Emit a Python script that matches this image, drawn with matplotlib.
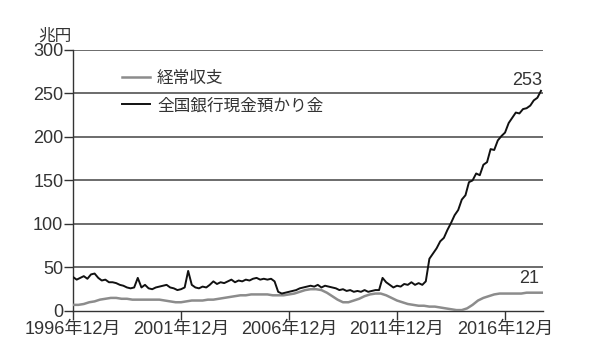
import matplotlib
matplotlib.use("Agg")
import matplotlib.pyplot as plt
import numpy as np
import pandas as pd

plt.rcParams['font.family'] = ['Liberation Sans', 'Noto Sans CJK JP']

# 全国銀行現金預かり金 (bi-monthly, 兆円)
cash_start = "1996-12"
cash_vals = [39,
             36, 38, 40, 37, 42, 43,
             38, 35, 36, 33, 33, 32,
             30, 29, 27, 26, 27, 38,
             27, 30, 26, 25, 27, 28,
             29, 30, 27, 26, 24, 25,
             27, 46, 30, 27, 26, 28,
             27, 30, 34, 31, 33, 32,
             34, 36, 33, 35, 34, 36,
             35, 37, 38, 36, 37, 36,
             37, 34, 22, 20, 21, 22,
             23, 24, 26, 27, 28, 29,
             28, 30, 27, 29, 28, 27,
             26, 24, 25, 23, 24, 22,
             23, 22, 24, 22, 23, 24,
             24, 38, 33, 30, 27, 29,
             28, 31, 30, 33, 30, 32,
             30, 34, 60, 66, 72, 80,
             84, 93, 101, 110, 116, 128,
             133, 148, 150, 158, 156, 168,
             171, 186, 185, 196, 201, 205,
             216, 222, 228, 227, 232, 233,
             236, 242, 245, 253]

# 経常収支 (quarterly, 兆円)
ca_start = "1996-12"
ca_vals = [7,
           7, 8, 10, 11,
           13, 14, 15, 15,
           14, 14, 13, 13,
           13, 13, 13, 13,
           12, 11, 10, 10,
           11, 12, 12, 12,
           13, 13, 14, 15,
           16, 17, 18, 18,
           19, 19, 19, 19,
           18, 18, 18, 19,
           20, 22, 24, 25,
           25, 24, 21, 17,
           13, 10, 10, 12,
           14, 17, 19, 20,
           20, 18, 15, 12,
           10, 8, 7, 6,
           6, 5, 5, 4,
           3, 2, 1, 1,
           3, 7, 12, 15,
           17, 19, 20, 20,
           20, 20, 20, 21,
           21, 21, 21]

tick_dates = ["1996-12", "2001-12", "2006-12", "2011-12", "2016-12"]
tick_labels = ["1996年12月", "2001年12月", "2006年12月", "2011年12月", "2016年12月"]
y_ticks = [0, 50, 100, 150, 200, 250, 300]

cash_x = pd.date_range(cash_start, periods=len(cash_vals), freq="2MS")
ca_x = pd.date_range(ca_start, periods=len(ca_vals), freq="3MS")

fig = plt.figure(figsize=(6, 3.49), dpi=100)
ax = fig.add_axes([0.1217, 0.109, 0.783, 0.748])

txt = "#333333"
for y in y_ticks[1:]:
    ax.axhline(y, color="#444444", lw=1.1, zorder=1)

ax.plot(ca_x, ca_vals, color="#8c8c8c", lw=1.8, label="経常収支", zorder=3)
ax.plot(cash_x, cash_vals, color="#111111", lw=1.4, label="全国銀行現金預かり金", zorder=4)

ax.set_xlim(pd.Timestamp("1996-12-01"), pd.Timestamp("2018-09-01"))
ax.set_ylim(0, 300)
ax.set_yticks(y_ticks)
ax.set_xticks(pd.to_datetime(tick_dates))
ax.set_xticklabels(tick_labels)

for s in ["top", "right"]:
    ax.spines[s].set_visible(False)
for s in ["left", "bottom"]:
    ax.spines[s].set_color("#333333")
    ax.spines[s].set_linewidth(1.0)
ax.tick_params(axis="both", colors="#333333", labelcolor=txt, labelsize=13,
               length=6.5, width=1, direction="out", pad=0.5)

ax.text(-0.074, 1.025, "兆円", transform=ax.transAxes, fontsize=12, color=txt,
        ha="left", va="bottom")

ax.annotate("253", (cash_x[-1], cash_vals[-1]), xytext=(1, 1), textcoords="offset points",
            ha="right", va="bottom", fontsize=13, color=txt)
ax.annotate("21", (ca_x[-1], ca_vals[-1]), xytext=(-3, 4), textcoords="offset points",
            ha="right", va="bottom", fontsize=13, color=txt)

leg = ax.legend(loc="upper left", bbox_to_anchor=(0.09, 0.945), frameon=False,
                fontsize=12, handlelength=1.7, handletextpad=0.4, labelspacing=0.7,
                borderaxespad=0)
for t in leg.get_texts():
    t.set_color(txt)

fig.savefig("out.png", dpi=100, facecolor="white")
